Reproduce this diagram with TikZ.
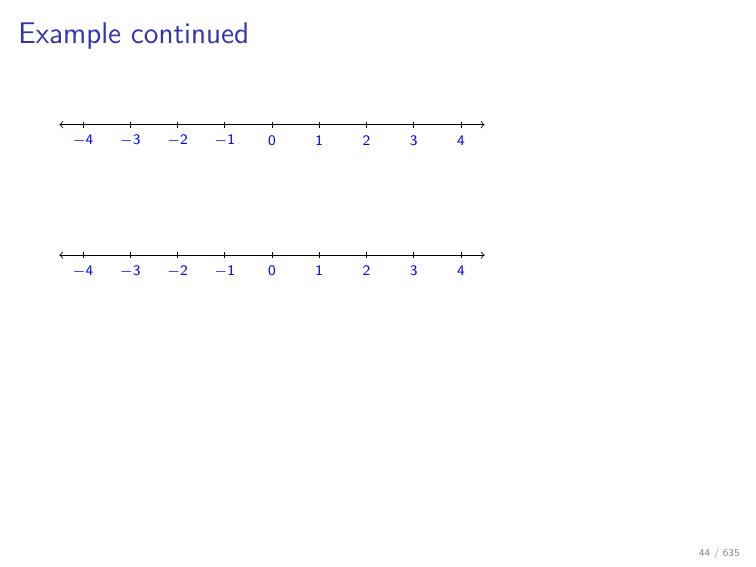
\documentclass[tikz,border=0pt]{standalone}
\usepackage{tikz}
\usetikzlibrary{positioning}
\definecolor{titleblue}{RGB}{51,51,179}

\begin{document}
\begin{tikzpicture}[x=0.8cm, tick/.style = {thin}, num/.style = {blue, font=\sffamily\scriptsize, inner sep=0pt}]
        \useasboundingbox (0,0) rectangle (16,9.6cm);
        \node[anchor=base west, titleblue, font=\sffamily\Large, inner sep=0pt] (title) at (0.38,8.86cm) {Example continued};
        \node[anchor=base east, gray, font=\sffamily\tiny, inner sep=0pt] (page) at (15.66,0.17cm) {44 / 635};

        % first number line
        \begin{scope}[shift={(5.756,7.49cm)}]
            \coordinate (l1) at (-4.5,0);
            \coordinate (r1) at (4.5,0);
            \draw[<->, thin] (l1) -- (r1);
            \foreach \m in {-4,...,4}{
                \draw[tick] (\m,1.5pt) -- (\m,-1.5pt);
                \node[num] (a\m) at (\m,-0.27cm) {$\mathsf{\m}$};
            }
        \end{scope}

        % second number line
        \begin{scope}[shift={(5.756,5.28cm)}]
            \coordinate (l2) at (-4.5,0);
            \coordinate (r2) at (4.5,0);
            \draw[<->, thin] (l2) -- (r2);
            \foreach \m in {-4,...,4}{
                \draw[tick] (\m,1.5pt) -- (\m,-1.5pt);
                \node[num] (b\m) at (\m,-0.27cm) {$\mathsf{\m}$};
            }
        \end{scope}
    \end{tikzpicture}
\end{document}
